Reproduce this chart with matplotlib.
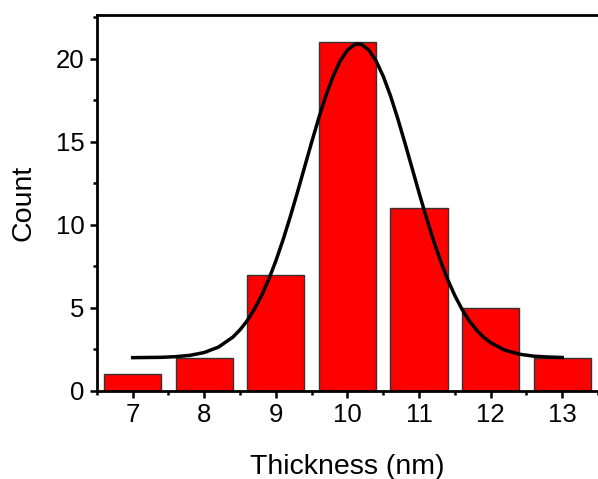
import matplotlib.pyplot as plt

plt.rcParams['font.family'] = ['Liberation Sans', 'DejaVu Sans']

# histogram data
thickness = [7, 8, 9, 10, 11, 12, 13]
counts = [1, 2, 7, 21, 11, 5, 2]

# fitted curve
fit_x = [7.0, 7.2, 7.4, 7.6, 7.8, 8.0, 8.2, 8.4, 8.5, 8.6, 8.7, 8.8, 8.9, 9.0,
         9.1, 9.2, 9.3, 9.4, 9.5, 9.6, 9.7, 9.8, 9.9, 10.0, 10.1, 10.15, 10.2,
         10.3, 10.4, 10.5, 10.6, 10.7, 10.8, 10.9, 11.0, 11.1, 11.2, 11.3, 11.4,
         11.5, 11.6, 11.7, 11.8, 11.9, 12.0, 12.2, 12.4, 12.6, 12.8, 13.0]
fit_y = [2.00, 2.01, 2.02, 2.06, 2.14, 2.31, 2.64, 3.24, 3.68, 4.23, 4.92, 5.74,
         6.71, 7.83, 9.09, 10.47, 11.94, 13.46, 14.98, 16.44, 17.79, 18.95, 19.88,
         20.53, 20.86, 20.90, 20.86, 20.53, 19.88, 18.95, 17.79, 16.44, 14.98,
         13.46, 11.94, 10.47, 9.09, 7.83, 6.71, 5.74, 4.92, 4.23, 3.68, 3.24,
         2.90, 2.45, 2.21, 2.09, 2.04, 2.01]

fig = plt.figure(figsize=(5.98, 4.79), dpi=100)
ax = fig.add_axes([0.162, 0.184, 0.838, 0.785])

ax.bar(thickness, counts, width=0.8, color='#ff0000', edgecolor='#333333', linewidth=1, zorder=2)
ax.plot(fit_x, fit_y, color='black', linewidth=2.5, zorder=3)

ax.set_xlim(6.5, 13.46)
ax.set_ylim(0, 22.65)
ax.set_xticks(thickness)
ax.set_xticks([6.5 + i for i in range(8)], minor=True)
ax.set_yticks([0, 5, 10, 15, 20])
ax.set_yticks([2.5, 7.5, 12.5, 17.5, 22.5], minor=True)

for s in ['left', 'bottom', 'top']:
    ax.spines[s].set_linewidth(2)
ax.spines['right'].set_visible(False)
ax.tick_params(which='major', direction='out', length=5, width=1.8, labelsize=18.5, pad=4)
ax.tick_params(which='minor', direction='out', length=3, width=1.8)
ax.tick_params(top=False, which='both')

ax.set_xlabel('Thickness (nm)', fontsize=20.5, labelpad=19)
ax.set_ylabel('Count', fontsize=20.5, labelpad=14)

plt.savefig('out.png', dpi=100)
